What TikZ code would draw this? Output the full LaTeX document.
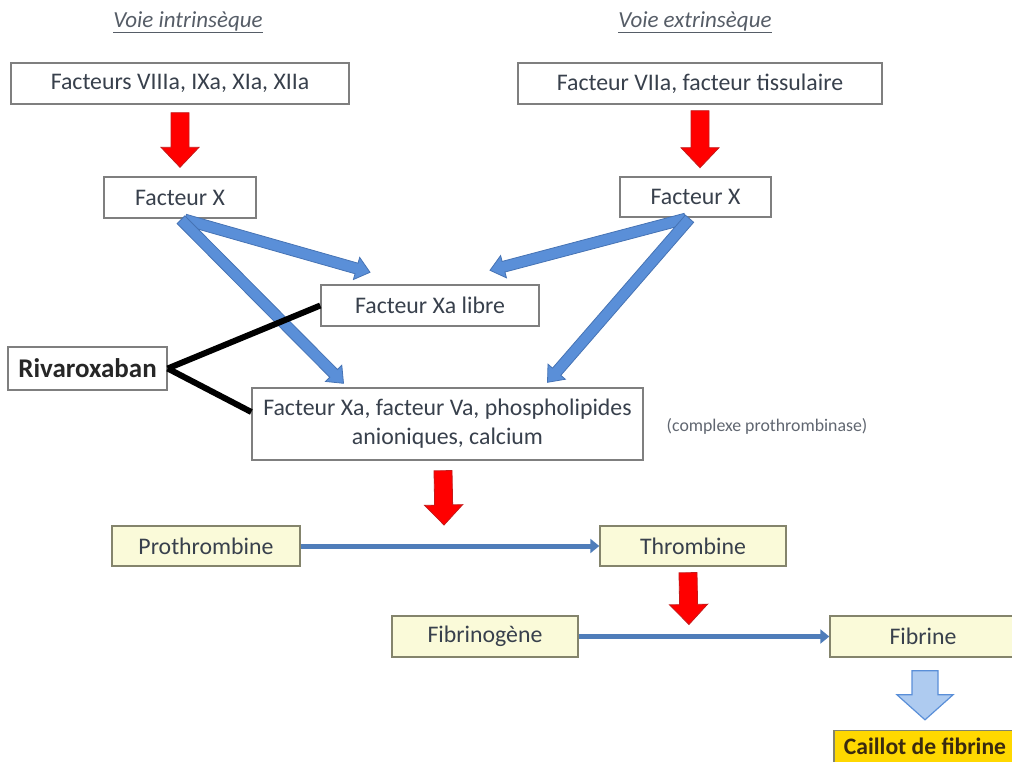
\documentclass[tikz,border=0pt]{standalone}
\usepackage{fontspec}
\setmainfont{Carlito}
\usetikzlibrary{calc,arrows.meta}

\definecolor{txt}{HTML}{38404C}
\definecolor{boxgray}{HTML}{7F7F7F}
\definecolor{cream}{HTML}{FAFAD9}
\definecolor{olivegray}{HTML}{84846C}
\definecolor{gold}{HTML}{FFD800}
\definecolor{brownish}{HTML}{3A2A10}
\definecolor{redfill}{HTML}{FF0000}
\definecolor{redline}{HTML}{C41A1A}
\definecolor{bluefill}{HTML}{5A8FD8}
\definecolor{blueline}{HTML}{4673B4}
\definecolor{lightblue}{HTML}{AECBF0}
\definecolor{thinblue}{HTML}{4F7DBA}

% block arrow: style, start, tip, shaft half-width, head half-width, head length
\newcommand\blockarrow[6]{%
  \coordinate (ba-s) at #2;
  \coordinate (ba-e) at #3;
  \coordinate (ba-h) at ($(ba-e)!#6!(ba-s)$);
  \path[#1] ($(ba-s)!#4!90:(ba-e)$) -- ($(ba-h)!#4!-90:(ba-s)$)
    -- ($(ba-h)!#5!-90:(ba-s)$) -- (ba-e) -- ($(ba-h)!#5!90:(ba-s)$)
    -- ($(ba-h)!#4!90:(ba-s)$) -- ($(ba-s)!#4!-90:(ba-e)$) -- cycle;
}

\tikzset{
  box/.style={draw=boxgray, line width=1.4pt, fill=white, text=txt,
    font=\fontsize{23.8}{28}\selectfont, inner sep=0pt, align=center},
  ybox/.style={box, fill=cream, draw=olivegray},
  title/.style={text=txt!85!white, font=\fontsize{23}{27}\selectfont\itshape, inner sep=0pt},
  redarrow/.style={fill=redfill, draw=redline, line width=0.8pt},
  bluearrow/.style={fill=bluefill, draw=blueline, line width=0.8pt},
  lightarrow/.style={fill=lightblue, draw=bluefill, line width=1.2pt},
  thinarrow/.style={draw=thinblue, line width=5pt, -{Triangle[length=9pt,width=14pt]}},
  inhibit/.style={draw=black, line width=6pt},
}

\begin{document}
\begin{tikzpicture}[x=1pt,y=-1pt]
\useasboundingbox (0,0) rectangle (1012,762);
\clip (0,0) rectangle (1012,762);

% pathway titles
\node[title] (tin) at (188,22) {\underline{Voie intrinsèque}};
\node[title] (tex) at (695,22) {\underline{Voie extrinsèque}};

% boxes
\node[box, minimum width=338pt, minimum height=41pt] (fin) at (180,83.5) {Facteurs VIIIa, IXa, XIa, XIIa};
\node[box, minimum width=364pt, minimum height=41pt] (fex) at (700,83.5) {Facteur VIIa, facteur tissulaire};
\node[box, minimum width=152pt, minimum height=41pt] (xl) at (180,197.5) {Facteur X};
\node[box, minimum width=151pt, minimum height=40pt] (xr) at (695.5,197) {Facteur X};
\node[box, minimum width=218pt, minimum height=41pt] (xal) at (430,305.5) {Facteur Xa libre};
\node[box, minimum width=159pt, minimum height=43pt, font=\fontsize{27}{32}\selectfont\bfseries, text=black!85] (riva) at (87.5,368.5) {Rivaroxaban};
\node[box, minimum width=391pt, minimum height=72pt, font=\fontsize{23.8}{29}\selectfont] (cplx) at (447.5,424) {Facteur Xa, facteur Va, phospholipides\\anioniques, calcium};
\node[text=txt!80!white, font=\fontsize{17.8}{21}\selectfont, inner sep=0pt] (note) at (767,426) {(complexe prothrombinase)};

\node[ybox, minimum width=188pt, minimum height=40pt] (proth) at (206,546) {Prothrombine};
\node[ybox, minimum width=186pt, minimum height=40pt] (thromb) at (693,546) {Thrombine};
\node[ybox, minimum width=186pt, minimum height=41pt] (fibgen) at (485,636.5) {Fibrinogène};
\node[ybox, minimum width=186pt, minimum height=41pt] (fib) at (923,636.5) {Fibrine};
\node[box, fill=gold, draw=olivegray, text=brownish, font=\fontsize{23.6}{28}\selectfont\bfseries, minimum width=182pt, minimum height=32pt] (caillot) at (925,746.5) {Caillot de fibrine};

% red activation arrows
\blockarrow{redarrow}{($(fin.south)+(0,8)$)}{($(xl.north)+(0,-9)$)}{9pt}{19pt}{20pt}
\blockarrow{redarrow}{($(fex.south)+(0,6)$)}{($(fex.south)+(0,63)$)}{9pt}{19pt}{20pt}
\coordinate (pt) at ($(proth.east)!0.48!(thromb.west)$);
\blockarrow{redarrow}{($(cplx.south)+(-4.5,10)$)}{($(pt)+(0,-21)$)}{9pt}{19pt}{20pt}
\coordinate (ff) at ($(fibgen.east)!0.44!(fib.west)$);
\blockarrow{redarrow}{($(thromb.south)+(-5,6)$)}{($(ff)+(0,-12)$)}{9pt}{19pt}{20pt}

% conversions
\draw[thinarrow] (proth) -- (thromb);
\draw[thinarrow] (fibgen) -- (fib);

% factor X activation towards Xa
\blockarrow{bluearrow}{($(xl.south)+(5,1)$)}{($(xal.north)+(-60,-12)$)}{5.5pt}{11.5pt}{14pt}
\blockarrow{bluearrow}{($(xl.south)+(1,1)$)}{($(cplx.north)+(-104,-4)$)}{5.5pt}{11.5pt}{14pt}
\blockarrow{bluearrow}{($(xr.south)+(-10,1)$)}{($(xal.north)+(60,-14)$)}{5.5pt}{11.5pt}{14pt}
\blockarrow{bluearrow}{($(xr.south)+(-6,1)$)}{($(cplx.north)+(100,-5)$)}{5.5pt}{11.5pt}{14pt}

% inhibition by rivaroxaban
\draw[inhibit] (riva.east) -- (xal.west);
\draw[inhibit] (riva.east) -- ($(cplx.west)+(0,-12)$);

% clot formation
\blockarrow{lightarrow}{($(fib.south)+(2,13)$)}{($(caillot.north)+(0,-10)$)}{13pt}{28pt}{25pt}
\end{tikzpicture}
\end{document}
